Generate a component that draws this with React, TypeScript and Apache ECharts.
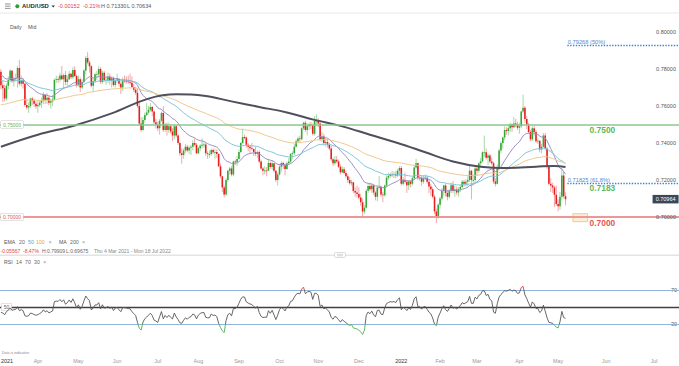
import React, { useEffect, useRef } from "react";
import * as echarts from "echarts";

// ---------------- DATA (AUD/USD daily; each row = [close, high, low] in pips of 0.0001) ----------------
const firstOpen = 0.7785;
const mar21 = [[7712,7800,7690],[7696,7735,7622],[7640,7715,7625],[7710,7722,7630],[7740,7760,7690],[7790,7800,7735],[7735,7795,7725],[7745,7760,7705],[7750,7775,7735],[7805,7815,7700],[7720,7849,7710],[7740,7765,7705],[7720,7750,7695],[7605,7725,7595],[7592,7640,7580],[7600,7620,7563],[7640,7645,7590],[7630,7650,7605],[7612,7640,7595],[7598,7625,7585]];
const apr21 = [[7605,7630,7563],[7618,7630,7595],[7630,7645,7590],[7660,7675,7610],[7632,7665,7610],[7645,7670,7610],[7617,7655,7605],[7626,7640,7586],[7635,7660,7600],[7740,7750,7630],[7745,7765,7725],[7743,7760,7725],[7765,7780,7730],[7745,7816,7740],[7768,7775,7690],[7730,7790,7712],[7745,7765,7710],[7775,7790,7740],[7755,7780,7745],[7795,7810,7745],[7762,7815,7755],[7715,7770,7700]];
const may21 = [[7745,7765,7705],[7700,7755,7675],[7730,7745,7690],[7792,7800,7725],[7860,7870,7770],[7835,7891,7825],[7815,7845,7780],[7710,7820,7700],[7735,7750,7675],[7772,7780,7725],[7772,7790,7740],[7800,7815,7755],[7730,7810,7720],[7780,7790,7720],[7740,7790,7730],[7742,7760,7715],[7760,7780,7725],[7736,7775,7715],[7750,7760,7700],[7713,7760,7705],[7737,7745,7700]];
const jun21 = [[7745,7775,7725],[7720,7750,7705],[7700,7730,7665],[7738,7755,7680],[7736,7765,7725],[7733,7760,7720],[7728,7765,7720],[7726,7775,7715],[7703,7760,7700],[7688,7720,7675],[7672,7705,7660],[7600,7695,7590],[7505,7620,7495],[7470,7540,7460],[7525,7540,7465],[7552,7565,7510],[7565,7615,7545],[7580,7600,7555],[7595,7616,7570],[7570,7600,7545],[7512,7575,7500],[7500,7530,7478]];
const jul21 = [[7480,7515,7465],[7520,7530,7445],[7562,7570,7515],[7470,7600,7460],[7500,7510,7460],[7470,7510,7440],[7490,7510,7455],[7462,7500,7450],[7440,7480,7410],[7490,7500,7420],[7440,7495,7430],[7400,7450,7390],[7345,7405,7330],[7335,7370,7288],[7360,7370,7315],[7380,7395,7345],[7360,7390,7350],[7375,7385,7340],[7380,7390,7335],[7400,7415,7360],[7390,7425,7380],[7345,7400,7340]];
const aug21 = [[7372,7380,7340],[7385,7395,7355],[7390,7425,7370],[7392,7405,7375],[7345,7400,7330],[7340,7355,7315],[7340,7360,7320],[7362,7370,7330],[7350,7370,7340],[7352,7370,7315],[7340,7365,7320],[7275,7345,7270],[7220,7290,7210],[7160,7220,7135],[7122,7170,7106],[7200,7210,7115],[7250,7255,7190],[7262,7270,7230],[7230,7275,7220],[7300,7305,7220],[7298,7310,7280],[7313,7330,7275]];
const sep21 = [[7352,7365,7310],[7400,7405,7345],[7432,7478,7395],[7430,7445,7420],[7390,7435,7375],[7380,7400,7355],[7372,7390,7345],[7368,7400,7360],[7352,7370,7330],[7340,7380,7330],[7352,7360,7320],[7300,7360,7290],[7262,7310,7255],[7250,7270,7225],[7252,7275,7230],[7250,7270,7220],[7292,7315,7250],[7270,7300,7260],[7290,7305,7255],[7250,7290,7240],[7200,7255,7190],[7230,7240,7170]];
const oct21 = [[7272,7285,7225],[7292,7300,7245],[7280,7300,7260],[7260,7290,7225],[7290,7300,7255],[7300,7320,7280],[7340,7345,7290],[7345,7355,7315],[7380,7395,7335],[7410,7420,7375],[7425,7435,7400],[7420,7440,7400],[7480,7485,7415],[7510,7515,7470],[7470,7520,7460],[7490,7505,7440],[7500,7510,7470],[7495,7515,7475],[7450,7505,7440],[7520,7546,7440],[7520,7555,7500]];
const nov21 = [[7505,7535,7485],[7420,7515,7410],[7435,7460,7405],[7400,7450,7385],[7405,7425,7380],[7390,7420,7375],[7370,7400,7360],[7312,7385,7300],[7290,7320,7275],[7310,7330,7280],[7300,7330,7290],[7272,7310,7265],[7242,7285,7230],[7258,7275,7235],[7238,7270,7230],[7220,7250,7210],[7200,7230,7185],[7182,7215,7175],[7188,7200,7170],[7140,7190,7130],[7132,7160,7110],[7125,7170,7105]];
const dec21 = [[7105,7160,7095],[7080,7125,7060],[7030,7100,6993],[7050,7065,7015],[7142,7150,7045],[7168,7180,7130],[7150,7185,7140],[7170,7180,7130],[7132,7175,7120],[7110,7140,7090],[7160,7165,7085],[7162,7222,7150],[7122,7170,7110],[7118,7135,7080],[7170,7175,7110],[7212,7225,7160],[7222,7240,7200],[7230,7240,7210],[7228,7250,7215],[7232,7245,7210],[7225,7250,7210],[7250,7260,7215],[7265,7275,7220]];
const jan22 = [[7180,7275,7170],[7200,7215,7170],[7190,7240,7180],[7172,7200,7130],[7192,7200,7145],[7180,7200,7160],[7210,7220,7170],[7268,7280,7200],[7290,7315,7260],[7212,7295,7200],[7212,7230,7195],[7190,7225,7170],[7210,7225,7180],[7212,7230,7200],[7190,7225,7180],[7165,7205,7130],[7150,7180,7115],[7110,7160,7100],[7030,7120,7015],[7005,7045,6967],[7066,7075,6990]];
const feb22 = [[7100,7110,7045],[7140,7155,7090],[7170,7175,7115],[7130,7180,7110],[7110,7145,7090],[7140,7150,7100],[7172,7185,7130],[7140,7195,7130],[7148,7170,7110],[7132,7165,7120],[7150,7160,7110],[7162,7175,7135],[7190,7200,7155],[7180,7200,7165],[7190,7205,7165],[7200,7220,7165],[7250,7285,7190],[7200,7255,7095],[7200,7230,7175],[7262,7270,7180]];
const mar22 = [[7250,7275,7225],[7290,7295,7240],[7302,7320,7275],[7350,7355,7295],[7350,7440,7325],[7320,7370,7310],[7332,7345,7280],[7300,7340,7290],[7290,7320,7280],[7192,7300,7180],[7180,7210,7165],[7270,7285,7175],[7360,7370,7260],[7400,7410,7345],[7430,7435,7370],[7470,7490,7415],[7465,7485,7445],[7480,7500,7440],[7500,7510,7460],[7485,7505,7460],[7505,7540,7480],[7500,7530,7485],[7482,7515,7470]];
const apr22 = [[7490,7510,7450],[7570,7575,7480],[7590,7661,7560],[7530,7600,7510],[7500,7545,7475],[7460,7510,7450],[7420,7470,7410],[7480,7490,7410],[7460,7495,7440],[7410,7470,7400],[7412,7425,7395],[7365,7415,7350],[7380,7395,7345],[7440,7455,7375],[7370,7455,7360],[7270,7380,7260],[7180,7275,7170],[7170,7210,7135],[7160,7185,7130],[7120,7170,7055],[7070,7170,7060]];
const may22 = [[7058,7095,7030],[7110,7135,7040],[7225,7266,7090],[7112,7245,7100],[7096,7133,7063]];

// 200-day simple MA: [candle index, value]
const ma200Points = [[0,0.7380],[20,0.7445],[40,0.7495],[60,0.7560],[80,0.7640],[95,0.7663],[110,0.7655],[125,0.7625],[140,0.7595],[155,0.7565],[170,0.7525],[185,0.7490],[200,0.7445],[215,0.7400],[230,0.7350],[245,0.7300],[260,0.7272],[275,0.7265],[290,0.7272],[300,0.7276],[306,0.7270]];
const emaPeriods = [20, 50, 100];
const emaSeeds = [0.7775, 0.7740, 0.7605];
const rsiSeedGain = 0.0040;
const rsiSeedLoss = 0.0046;
const lastPrice = 0.70964;
const monthTicks = ["2021","Apr","May","Jun","Jul","Aug","Sep","Oct","Nov","Dec","2022","Feb","Mar","Apr","May","Jun","Jul"];
const resistance = 0.75;
const support = 0.70;
const fibValues = [0.79268, 0.71825];
const fibNames = ["0.79268 (50%)", "0.71825 (61.8%)"];
const levelValues = [0.75, 0.71825, 0.70];
const levelTexts = ["0.7500", "0.7183", "0.7000"];
const zoneLow = 0.6975;
const zoneHigh = 0.7018;
const startDate = "2021-03-04";
const futureSlots = 61;

// ---------------- derived ----------------
const months = [mar21, apr21, may21, jun21, jul21, aug21, sep21, oct21, nov21, dec21, jan22, feb22, mar22, apr22, may22];
const rows = months.flat();
const closes = rows.map((r) => r[0] / 1e4);
const candles = rows.map((r, i) => {
  const open = i === 0 ? firstOpen : closes[i - 1];
  const close = closes[i];
  const high = Math.max(r[1] / 1e4, open, close);
  const low = Math.min(r[2] / 1e4, open, close);
  return [i, open, close, low, high];
});

function buildCategories(n: number): string[] {
  const out: string[] = [];
  const d = new Date(startDate + "T00:00:00Z");
  while (out.length < n) {
    const wd = d.getUTCDay();
    if (wd !== 0 && wd !== 6) out.push(d.toISOString().slice(0, 10));
    d.setUTCDate(d.getUTCDate() + 1);
  }
  let f = 0;
  while (f < futureSlots) {
    if (d.getUTCDay() !== 0) { out.push(d.toISOString().slice(0, 10)); f++; }
    d.setUTCDate(d.getUTCDate() + 1);
  }
  return out;
}
const cats = buildCategories(closes.length);
const tickLabel: Record<number, string> = {};
{
  let k = 0;
  cats.forEach((c, i) => {
    if (i === 0 || c.slice(0, 7) !== cats[i - 1].slice(0, 7)) {
      tickLabel[i] = monthTicks[k] ?? "";
      k++;
    }
  });
}

function ema(period: number, seed: number) {
  const k = 2 / (period + 1);
  let prev = seed;
  return closes.map((c) => { prev = prev + k * (c - prev); return +prev.toFixed(5); });
}
function rsi14() {
  let g = rsiSeedGain, l = rsiSeedLoss, prev = firstOpen;
  return closes.map((c) => {
    const ch = c - prev; prev = c;
    g = (g * 13 + Math.max(ch, 0)) / 14;
    l = (l * 13 + Math.max(-ch, 0)) / 14;
    return +(100 - 100 / (1 + g / l)).toFixed(2);
  });
}
const emaLines = emaPeriods.map((p, i) => ema(p, emaSeeds[i]));
const ma200: (number | null)[] = closes.map(() => null);
ma200Points.forEach(([i, v]) => { ma200[i] = v; });
const rsiData = rsi14();

const FONT = "Liberation Sans, Arial, sans-serif";
const GREEN_TXT = "#5cb85c";
const RED_TXT = "#e05555";

function txt(text: string, x: number, y: number, fill: string, fontSize: number, extra: any = {}) {
  return { type: "text", silent: true, style: { text, x, y, fill, fontSize, fontFamily: FONT, verticalAlign: "middle", ...extra } };
}

export default function App() {
  const ref = useRef<HTMLDivElement>(null);
  useEffect(() => {
    if (!ref.current) return;
    const chart = echarts.init(ref.current, undefined, { renderer: "svg" });
    const last = cats.length - 1;
    const candleSeries = {
      type: "custom",
      name: "AUD/USD",
      xAxisIndex: 0,
      yAxisIndex: 0,
      clip: true,
      encode: { x: 0, y: [1, 2, 3, 4] },
      data: candles,
      renderItem: (params: any, api: any) => {
        const i = api.value(0);
        const o = api.value(1), c = api.value(2), lo = api.value(3), hi = api.value(4);
        const pO = api.coord([i, o]);
        const pC = api.coord([i, c]);
        const pL = api.coord([i, lo]);
        const pH = api.coord([i, hi]);
        const bw = api.size([1, 0])[0];
        const w = Math.max(1.2, bw * 0.85);
        const up = c >= o;
        const top = Math.min(pO[1], pC[1]);
        const h = Math.max(0.8, Math.abs(pO[1] - pC[1]));
        return {
          type: "group",
          children: [
            { type: "line", shape: { x1: pH[0], y1: pH[1], x2: pL[0], y2: pL[1] }, style: { stroke: up ? "#a6d9a6" : "#f4a7aa", lineWidth: 1 } },
            { type: "rect", shape: { x: pO[0] - w / 2, y: top, width: w, height: h }, style: { fill: up ? "#35a535" : "#e4201f" } },
          ],
        };
      },
    };
    const hiddenPt = { symbol: "rect", symbolSize: 1, itemStyle: { color: "rgba(0,0,0,0)" } };
    const option: any = {
      animation: false,
      backgroundColor: "#ffffff",
      textStyle: { fontFamily: FONT },
      grid: [
        { left: 0, right: 0, top: 13.5, height: 240.5, outerBoundsMode: "none", containLabel: false },
        { left: 0, right: 0, top: 264.5, height: 85, outerBoundsMode: "none", containLabel: false },
      ],
      xAxis: [
        { type: "category", gridIndex: 0, data: cats, boundaryGap: true, axisLabel: { show: false }, axisLine: { show: false }, axisTick: { show: false }, splitLine: { show: false } },
        {
          type: "category", gridIndex: 1, data: cats, boundaryGap: true,
          axisLine: { show: false }, axisTick: { show: false }, splitLine: { show: false },
          axisLabel: {
            show: true, margin: 9, fontSize: 5.4, color: "#999", alignMinLabel: "left",
            interval: (index: number) => tickLabel[index] !== undefined,
            formatter: (_v: string, index: number) => {
              const t = tickLabel[index] ?? "";
              return /^\d{4}$/.test(t) ? "{y|" + t + "}" : t;
            },
            rich: { y: { color: "#333", fontSize: 5.4, fontFamily: FONT } },
          },
        },
      ],
      yAxis: [
        {
          type: "value", gridIndex: 0, position: "right", min: 0.68, max: 0.81, interval: 0.02, scale: true,
          axisLine: { show: false }, axisTick: { show: false }, splitLine: { show: false },
          axisLabel: { inside: true, margin: 3, fontSize: 5.5, color: "#555", formatter: (v: number) => (v > 0.695 && v < 0.805 ? v.toFixed(5) : "") },
          z: 10,
        },
        {
          type: "value", gridIndex: 1, position: "right", min: 0, max: 100, interval: 10,
          axisLine: { show: false }, axisTick: { show: false }, splitLine: { show: false },
          axisLabel: { inside: true, margin: 2, fontSize: 5.4, color: "#555", formatter: (v: number) => (v === 70 || v === 30 ? String(v) : "") },
        },
      ],
      visualMap: [
        {
          type: "piecewise", show: false, seriesIndex: 5,
          pieces: [
            { lt: 30, color: "#4cb04c" },
            { gte: 30, lte: 70, color: "#555555" },
            { gt: 70, color: "#e53935" },
          ],
        },
      ],
      series: [
        candleSeries,
        { type: "line", name: "EMA 20", data: emaLines[0], showSymbol: false, symbol: "none", lineStyle: { color: "#9b8fc4", width: 1 }, z: 3 },
        { type: "line", name: "EMA 50", data: emaLines[1], showSymbol: false, symbol: "none", lineStyle: { color: "#7fc6d8", width: 1 }, z: 3 },
        {
          type: "line", name: "EMA 100", data: emaLines[2], showSymbol: false, symbol: "none", lineStyle: { color: "#efc68e", width: 1 }, z: 3,
          markLine: {
            silent: true, symbol: ["none", "none"], animation: false, label: { show: false },
            data: [
              { yAxis: resistance, lineStyle: { color: "#8ec78e", width: 1.5, type: "solid" } },
              { yAxis: support, lineStyle: { color: "#ec9898", width: 2, type: "solid" } },
              ...fibValues.map((v, k) => [
                {
                  coord: [cats[closes.length], v], name: fibNames[k],
                  lineStyle: { color: "#3f83cc", width: 1.4, type: "dotted" },
                  label: { show: true, position: "insideStartTop", distance: 0.5, formatter: "{b}", fontSize: 5.7, color: "#4a8ad0", fontFamily: FONT },
                },
                { coord: [cats[last], v] },
              ]),
            ],
          },
          markArea: {
            silent: true,
            data: [[
              { coord: [cats[closes.length + 3], zoneLow], itemStyle: { color: "rgba(250,205,140,0.35)", borderColor: "#efc079", borderWidth: 0.8 } },
              { coord: [cats[closes.length + 11], zoneHigh] },
            ]],
          },
          markPoint: {
            silent: true, animation: false,
            data: [
              ...levelValues.map((v, k) => ({
                ...hiddenPt, coord: [cats[326], v],
                label: { show: true, position: "bottom", distance: k === 1 ? 0.5 : 1, formatter: levelTexts[k], color: k === 2 ? RED_TXT : GREEN_TXT, fontSize: 8.4, fontWeight: "bold", fontFamily: FONT },
              })),
              {
                ...hiddenPt, coord: [cats[6], resistance],
                label: { show: true, position: "inside", formatter: resistance.toFixed(5), color: GREEN_TXT, fontSize: 5, backgroundColor: "#fff", borderColor: "#c8c8c8", borderWidth: 0.5, padding: [1, 2], fontFamily: FONT },
              },
              {
                ...hiddenPt, coord: [cats[6], support],
                label: { show: true, position: "inside", formatter: support.toFixed(5), color: RED_TXT, fontSize: 5, backgroundColor: "#fff", borderColor: "#c8c8c8", borderWidth: 0.5, padding: [1, 2], fontFamily: FONT },
              },
              {
                coord: [cats[last], lastPrice], symbol: "rect", symbolSize: [26, 8.5], symbolOffset: [-12.5, 0],
                itemStyle: { color: "#394759" },
                label: { show: true, position: "inside", formatter: lastPrice.toFixed(5), color: "#ffffff", fontSize: 5.5, fontFamily: FONT },
              },
            ],
          },
        },
        { type: "line", name: "MA 200", data: ma200, connectNulls: true, smooth: 0.4, showSymbol: false, symbol: "none", lineStyle: { color: "#4f4f5e", width: 2 }, z: 4 },
        {
          type: "line", name: "RSI", xAxisIndex: 1, yAxisIndex: 1, data: rsiData, showSymbol: false, symbol: "none", lineStyle: { width: 0.9 }, z: 5,
          markLine: {
            silent: true, symbol: ["none", "none"], label: { show: false },
            data: [
              { yAxis: 70, lineStyle: { color: "#94b5db", width: 1.2, type: "solid" } },
              { yAxis: 30, lineStyle: { color: "#94b5db", width: 1.2, type: "solid" } },
              { yAxis: 50, lineStyle: { color: "#404040", width: 1.4, type: "solid" } },
            ],
          },
          markPoint: {
            silent: true,
            data: [
              { ...hiddenPt, coord: [cats[3], 50], label: { show: true, position: "inside", formatter: "50", color: "#666", fontSize: 5, backgroundColor: "#fff", borderColor: "#c8c8c8", borderWidth: 0.5, padding: [1, 2], fontFamily: FONT } },
            ],
          },
        },
      ],
      graphic: [
        { type: "line", silent: true, shape: { x1: 5, y1: 4, x2: 10.5, y2: 4 }, style: { stroke: "#777", lineWidth: 0.8 } },
        { type: "line", silent: true, shape: { x1: 5, y1: 6.2, x2: 10.5, y2: 6.2 }, style: { stroke: "#777", lineWidth: 0.8 } },
        { type: "line", silent: true, shape: { x1: 5, y1: 8.4, x2: 10.5, y2: 8.4 }, style: { stroke: "#777", lineWidth: 0.8 } },
        { type: "circle", silent: true, shape: { cx: 17.3, cy: 6.2, r: 2 }, style: { fill: "#2e9e3a" } },
        txt("AUD/USD", 22, 6.4, "#1f1f1f", 5.9, { fontWeight: "bold" }),
        { type: "polygon", silent: true, shape: { points: [[51.5, 5.4], [55, 5.4], [53.25, 7.4]] }, style: { fill: "#333" } },
        txt("-0.00152", 58, 6.4, "#e0443c", 5.5),
        txt("-0.21%", 83, 6.4, "#e0443c", 5.5),
        txt("H 0.71330", 101, 6.4, "#555", 5.5),
        txt("L 0.70634", 127, 6.4, "#555", 5.5),
        { type: "line", silent: true, shape: { x1: 0, y1: 13, x2: 679, y2: 13 }, style: { stroke: "#e8e8e8", lineWidth: 1 } },
        txt("Daily", 10, 27, "#555", 5.2),
        txt("Mid", 28, 27, "#555", 5.2),
        txt("EMA", 4, 242, "#555", 5.2),
        txt("20", 19, 242, "#666", 5.2),
        txt("50", 28, 242, "#4fa3d1", 5.2),
        txt("100", 36, 242, "#e8a13a", 5.2),
        txt("×", 48.5, 242, "#999", 5.5),
        txt("MA", 59, 242, "#555", 5.2),
        txt("200", 70, 242, "#666", 5.2),
        txt("×", 82, 242, "#999", 5.5),
        txt("-0.05567", 0.5, 251, "#e0443c", 5),
        txt("-8.47%", 23, 251, "#e0443c", 5),
        txt("H:0.79909", 42, 251, "#666", 5),
        txt("L:0.69675", 66, 251, "#666", 5),
        txt("Thu 4 Mar 2021 - Mon 18 Jul 2022", 94, 251, "#888", 5),
        { type: "rect", silent: true, shape: { x: 0, y: 254.5, width: 679, height: 1.5 }, style: { fill: "#e4e4e4" } },
        { type: "rect", silent: true, shape: { x: 334.5, y: 252.5, width: 11, height: 5, r: 1 }, style: { fill: "#fff", stroke: "#c4c4c4", lineWidth: 0.6 } },
        { type: "line", silent: true, shape: { x1: 337, y1: 254.3, x2: 343, y2: 254.3 }, style: { stroke: "#aaa", lineWidth: 0.5 } },
        { type: "line", silent: true, shape: { x1: 337, y1: 255.8, x2: 343, y2: 255.8 }, style: { stroke: "#aaa", lineWidth: 0.5 } },
        txt("RSI", 4, 262, "#555", 5.2),
        txt("14", 16, 262, "#666", 5.2),
        txt("70", 25, 262, "#666", 5.2),
        txt("30", 34, 262, "#666", 5.2),
        txt("×", 43, 262, "#999", 5.5),
        txt("Data is indicative", 2, 353, "#888", 3.6),
      ],
    };
    chart.setOption(option);
    return () => chart.dispose();
  }, []);
  return <div ref={ref} style={{ position: "fixed", left: 0, top: 0, width: 679, height: 366, background: "#fff" }} />;
}
